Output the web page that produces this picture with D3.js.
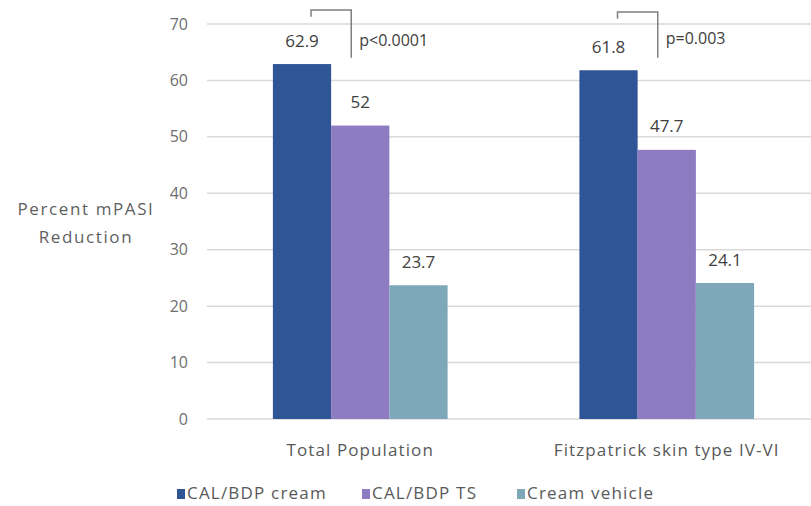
<!DOCTYPE html>
<html>
<head>
<meta charset="utf-8">
<script src="https://cdn.jsdelivr.net/npm/d3@7"></script>
<style>
  html, body { margin: 0; padding: 0; background: #fff; }
  svg { display: block; }
  text { font-family: "Open Sans", "DejaVu Sans", sans-serif; }
</style>
</head>
<body>
<svg id="chart" width="811" height="506"></svg>
<script>
// Groups and series
const categories = ["Total Population", "Fitzpatrick skin type IV-VI"];
const seriesNames = ["CAL/BDP cream", "CAL/BDP TS", "Cream vehicle"];
const calBdpCream = [62.9, 61.8];
const calBdpTS = [52, 47.7];
const creamVehicle = [23.7, 24.1];
const valueLabels = [["62.9", "52", "23.7"], ["61.8", "47.7", "24.1"]];
const pValues = ["p<0.0001", "p=0.003"];
const yTicks = [0, 10, 20, 30, 40, 50, 60, 70];
const yTitle = ["Percent mPASI", "Reduction"];

const colors = ["#2f5597", "#8e7cc3", "#7fa7ba"];
const seriesValues = [calBdpCream, calBdpTS, creamVehicle];

const svg = d3.select("#chart");

const plotLeft = 207, plotRight = 820, plotTop = 24, plotBottom = 419;

const y = d3.scaleLinear().domain([0, 70]).range([plotBottom, plotTop]);
const x0 = d3.scaleBand().domain(categories).range([plotLeft, plotRight])
  .paddingInner(0.43).paddingOuter(0.215);
const x1 = d3.scaleBand().domain(seriesNames).range([0, x0.bandwidth()]);

// Gridlines
svg.append("g").selectAll("line").data(yTicks).join("line")
  .attr("x1", plotLeft).attr("x2", 811)
  .attr("y1", d => y(d)).attr("y2", d => y(d))
  .attr("stroke", "#d9d9d9").attr("stroke-width", 1.5);

// Y axis tick labels
const yAxis = d3.axisLeft(y).tickValues(yTicks).tickSize(0).tickPadding(19);
const gy = svg.append("g").attr("transform", `translate(${plotLeft},0)`).call(yAxis);
gy.select(".domain").remove();
gy.selectAll("text").attr("font-size", 16).attr("fill", "#6e6e6e")
  .attr("font-family", "'Open Sans', sans-serif");

// Y axis title
svg.append("g").selectAll("text").data(yTitle).join("text")
  .attr("x", 86).attr("y", (d, i) => 210 + i * 28)
  .attr("text-anchor", "middle").attr("dominant-baseline", "middle")
  .attr("font-size", 17).attr("letter-spacing", 1.6).attr("fill", "#5f5f5f")
  .text(d => d);

// Bars
const groups = svg.append("g").selectAll("g").data(categories).join("g")
  .attr("transform", d => `translate(${x0(d)},0)`);

groups.selectAll("rect")
  .data((c, ci) => seriesNames.map((s, si) => ({ s, si, ci, v: seriesValues[si][ci] })))
  .join("rect")
  .attr("x", d => x1(d.s)).attr("width", x1.bandwidth())
  .attr("y", d => y(d.v)).attr("height", d => y(0) - y(d.v))
  .attr("fill", d => colors[d.si]);

// Value labels
groups.selectAll("text.val")
  .data((c, ci) => seriesNames.map((s, si) => ({ s, si, ci, v: seriesValues[si][ci] })))
  .join("text").attr("class", "val")
  .attr("x", d => x1(d.s) + x1.bandwidth() / 2)
  .attr("y", d => y(d.v) - 22)
  .attr("text-anchor", "middle").attr("dominant-baseline", "middle")
  .attr("font-size", 17).attr("fill", "#404040")
  .text(d => valueLabels[d.ci][d.si]);

// Significance brackets between the two active treatments
groups.each(function (c, ci) {
  const g = d3.select(this);
  const xl = x1(seriesNames[0]) + x1.bandwidth() / 2 + 9;
  const xr = x1(seriesNames[1]) + x1.bandwidth() / 2 - 9;
  const top = y(72.5) + ci * 2;
  g.append("path")
    .attr("d", `M${xl},${y(71.3) + ci * 2}V${top}H${xr}V${y(64)}`)
    .attr("fill", "none").attr("stroke", "#7f7f7f").attr("stroke-width", 1.5);
  g.append("text")
    .attr("x", xr + 8).attr("y", y(66.8) + (ci ? -2 : 0))
    .attr("dominant-baseline", "middle")
    .attr("font-size", 16).attr("fill", "#404040")
    .text(pValues[ci]);
});

// Category labels
svg.append("g").selectAll("text").data(categories).join("text")
  .attr("x", d => x0(d) + x0.bandwidth() / 2).attr("y", 451)
  .attr("text-anchor", "middle").attr("dominant-baseline", "middle")
  .attr("font-size", 17).attr("letter-spacing", 1.1).attr("fill", "#595959")
  .text(d => d);

// Legend
const legendX = [177, 362, 517];
const legend = svg.append("g").selectAll("g").data(seriesNames).join("g")
  .attr("transform", (d, i) => `translate(${legendX[i]},494)`);
legend.append("rect").attr("x", 0).attr("y", -5).attr("width", 8).attr("height", 10)
  .attr("fill", (d, i) => colors[i]);
legend.append("text").attr("x", 10).attr("y", 0)
  .attr("dominant-baseline", "middle")
  .attr("font-size", 17).attr("letter-spacing", 1.2).attr("fill", "#595959")
  .text(d => d);
</script>
</body>
</html>
